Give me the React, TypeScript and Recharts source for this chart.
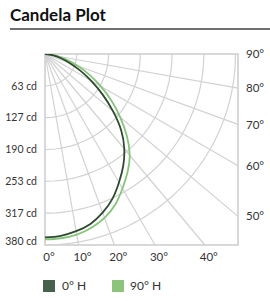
import React from "react"
import { LineChart, Line, XAxis, YAxis, ReferenceLine, ReferenceArea } from "recharts"

// candela values read every 5 degrees, 0 = straight down, 90 = horizontal
const angles = [0, 5, 10, 15, 20, 25, 30, 35, 40, 45, 50, 55, 60, 65, 70, 75, 80, 85, 90]
const candela0H = [365, 363, 358, 350, 336, 318, 295, 272, 246, 215, 177, 140, 106, 77, 52, 33, 17, 6, 0]
const candela90H = [369, 368, 365, 358, 347, 331, 309, 287, 263, 231, 196, 162, 128, 98, 70, 45, 25, 9, 0]

const ringValues = [63.33, 126.67, 190, 253.33, 316.67, 380]
const ringLabels = ["63 cd", "127 cd", "190 cd", "253 cd", "317 cd", "380 cd"]
const bottomAngles = [0, 10, 20, 30, 40]
const rightAngles = [50, 60, 70, 80, 90]
const rayAngles = [10, 20, 30, 40, 50, 60, 70, 80]

const X_MAX = 385
const Y_MAX = 380
const GRID = "#d2d2d2"
const DARK = "#2f4a31"
const LIGHT = "#86c47a"
const FONT = "Lato, 'Open Sans', sans-serif"

const rad = (d: number) => (d * Math.PI) / 180
const toXY = (deg: number, cd: number) => ({ x: cd * Math.sin(rad(deg)), y: cd * Math.cos(rad(deg)) })

const series0H = angles.map((a, i) => toXY(a, candela0H[i]))
const series90H = angles.map((a, i) => toXY(a, candela90H[i]))

const arcSteps = Array.from({ length: 46 }, (_, i) => i * 2)
const arcs = ringValues.map((r) => arcSteps.map((a) => toXY(a, r)))

const rayEnd = (deg: number) => {
  const t = Math.tan(rad(deg))
  return Y_MAX * t <= X_MAX ? { x: Y_MAX * t, y: Y_MAX } : { x: X_MAX, y: X_MAX / t }
}

const bottomTicks = bottomAngles.map((a) => Y_MAX * Math.tan(rad(a)))
const rightTicks = rightAngles.map((a) => X_MAX / Math.tan(rad(a)))

const LeftTick = (props: any) => {
  const { x, y, index } = props
  const last = index === ringLabels.length - 1
  return (
    <text x={x} y={y + (last ? -4 : 0)} dy="0.355em" textAnchor="end" fontSize={10.5} fill="#333" fontFamily={FONT}>
      {ringLabels[index]}
    </text>
  )
}

export default function App() {
  return (
    <div style={{ position: "absolute", left: 0, top: 0, width: 270, height: 301, background: "#fff", fontFamily: FONT }}>
      <div style={{ position: "absolute", left: 10, top: 4, fontSize: 17, fontWeight: 700, color: "#111" }}>Candela Plot</div>
      <div style={{ position: "absolute", left: 10, top: 28, width: 260, height: 2, background: "#707070" }} />

      <LineChart width={270} height={301} margin={{ top: 54, right: 0, bottom: 36, left: 0 }}>
        <XAxis
          type="number"
          dataKey="x"
          domain={[0, X_MAX]}
          ticks={bottomTicks}
          interval={0}
          tickFormatter={(_v: number, i: number) => `${bottomAngles[i]}°`}
          axisLine={false}
          tickLine={false}
          height={20}
          tick={{ fontSize: 11.5, fill: "#333", fontFamily: FONT, dx: 4 }}
          allowDataOverflow
        />
        <YAxis
          yAxisId="left"
          type="number"
          dataKey="y"
          domain={[0, Y_MAX]}
          reversed
          ticks={ringValues}
          interval={0}
          width={45}
          axisLine={false}
          tickLine={false}
          tick={<LeftTick />}
          allowDataOverflow
        />
        <YAxis
          yAxisId="right"
          orientation="right"
          type="number"
          domain={[0, Y_MAX]}
          reversed
          ticks={rightTicks}
          interval={0}
          width={32}
          axisLine={false}
          tickLine={false}
          tickFormatter={(_v: number, i: number) => `${rightAngles[i]}°`}
          tick={{ fontSize: 11.5, fill: "#333", fontFamily: FONT }}
          allowDataOverflow
        />

        {rayAngles.map((a) => (
          <ReferenceLine
            key={`ray-${a}`}
            yAxisId="left"
            segment={[{ x: 0, y: 0 }, rayEnd(a)]}
            stroke={GRID}
            strokeWidth={1.2}
          />
        ))}
        {arcs.map((pts, i) => (
          <Line
            key={`arc-${i}`}
            yAxisId="left"
            data={pts}
            dataKey="y"
            type="linear"
            stroke={GRID}
            strokeWidth={1.2}
            dot={false}
            activeDot={false}
            isAnimationActive={false}
          />
        ))}
        <ReferenceArea yAxisId="left" x1={0} x2={X_MAX} y1={0} y2={Y_MAX} fill="none" stroke="#cccccc" strokeWidth={1.5} />

        <Line
          yAxisId="left"
          data={series90H}
          dataKey="y"
          name="90° H"
          type="natural"
          stroke={LIGHT}
          strokeWidth={1.8}
          dot={false}
          activeDot={false}
          isAnimationActive={false}
        />
        <Line
          yAxisId="left"
          data={series0H}
          dataKey="y"
          name="0° H"
          type="natural"
          stroke={DARK}
          strokeWidth={1.8}
          dot={false}
          activeDot={false}
          isAnimationActive={false}
        />
      </LineChart>

      <div style={{ position: "absolute", left: 43, top: 280, width: 12, height: 12, background: "#46624a" }} />
      <div style={{ position: "absolute", left: 62, top: 278, fontSize: 12, color: "#333" }}>0° H</div>
      <div style={{ position: "absolute", left: 112, top: 280, width: 12, height: 12, background: "#8cc47c" }} />
      <div style={{ position: "absolute", left: 130, top: 278, fontSize: 12, color: "#333" }}>90° H</div>
    </div>
  )
}
